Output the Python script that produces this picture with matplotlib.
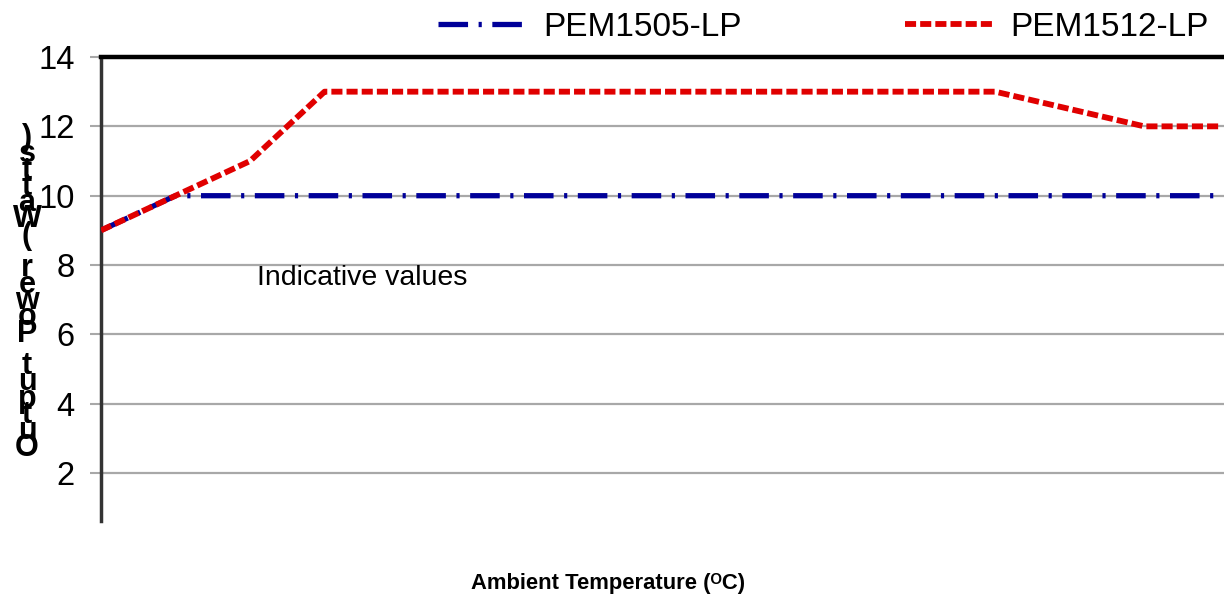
import matplotlib
matplotlib.use("Agg")
import matplotlib.pyplot as plt
from matplotlib.lines import Line2D

# ambient temperature steps (10 degC apart), output power in watts
temps = [-40, -30, -20, -10, 0, 10, 20, 30, 40, 50, 60, 70, 80, 90, 100, 110]
pem1505 = [9, 10, 10, 10, 10, 10, 10, 10, 10, 10, 10, 10, 10, 10, 10, 10]
pem1512 = [9, 10, 11, 13, 13, 13, 13, 13, 13, 13, 13, 13, 13, 12.5, 12, 12]
yticks = [2, 4, 6, 8, 10, 12, 14]

BLUE = "#000099"
RED = "#E00000"
FONT = ["Liberation Sans", "DejaVu Sans"]
plt.rcParams["font.family"] = FONT

fig = plt.figure(figsize=(12.24, 5.98), dpi=100)
ax = fig.add_axes([101 / 1224, 1 - 521 / 598, 1 - 101 / 1224, (521 - 57) / 598])

l1, = ax.plot(temps, pem1505, color=BLUE, lw=3.8, zorder=3)
l1.set_dashes([5.6, 2.0, 0.6, 2.0])
l2, = ax.plot(temps, pem1512, color=RED, lw=4.2, zorder=4)
l2.set_dashes([1.9, 0.7])

ax.set_ylim(0.62, 14)
ax.set_xlim(-40, -40 + 150.7)
ax.set_yticks(yticks)
ax.set_xticks([])
ax.yaxis.grid(True, color="#A8A8A8", lw=1.6)
ax.set_axisbelow(True)
ax.tick_params(axis="y", direction="out", length=8, width=1.5, color="#A8A8A8",
               pad=11, labelsize=23.5, labelcolor="black")
for s in ["bottom", "right"]:
    ax.spines[s].set_visible(False)
ax.spines["left"].set_color("#333333")
ax.spines["left"].set_linewidth(2.5)
ax.spines["top"].set_color("black")
ax.spines["top"].set_linewidth(3.2)

ax.text(-5, 7.64, "Indicative values", fontsize=20.5, ha="center", va="center")

# legend above the plot, no frame
h1 = Line2D([], [], color=BLUE, lw=3.8, dashes=[5.6, 2.0, 0.6, 2.0])
h2 = Line2D([], [], color=RED, lw=4.2, dashes=[1.9, 0.7])
fig.legend([h1, h2], ["PEM1505-LP", "PEM1512-LP"], ncol=2, frameon=False,
           loc="center left", bbox_to_anchor=(438 / 1224, 1 - 27 / 598),
           fontsize=24, handlelength=2.6, handletextpad=0.55, columnspacing=4.9,
           borderpad=0, borderaxespad=0)

# x label with superscript O
fig.text(608 / 1224, 1 - 583 / 598, "Ambient Temperature (ᴼC)", fontsize=15.8,
         fontweight="bold", ha="center", va="center")

# y label drawn as stacked, reversed characters like the original
ylab = "Output Power (Watts)"
for i, ch in enumerate(reversed(ylab)):
    ypix = 138 + i * 16.3
    fig.text(27 / 1224, 1 - ypix / 598, ch, fontsize=22, fontweight="bold",
             ha="center", va="center")

fig.savefig("out.png", dpi=100)
